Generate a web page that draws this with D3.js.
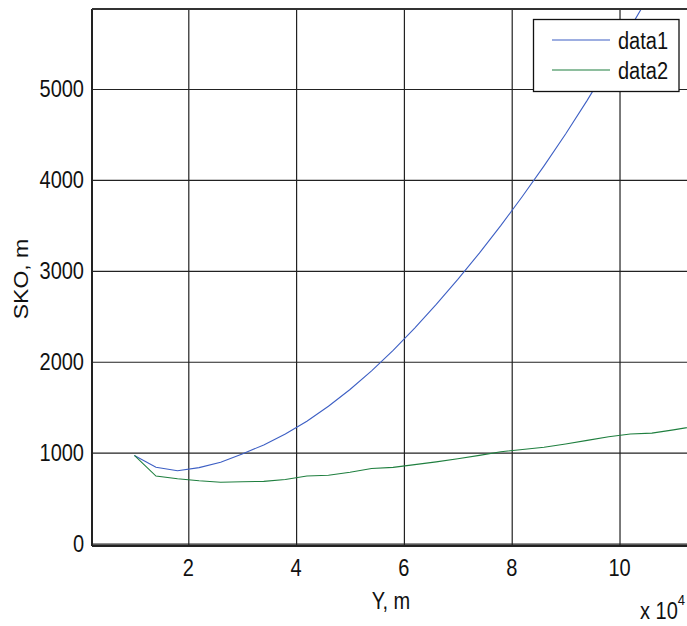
<!DOCTYPE html>
<html>
<head>
<meta charset="utf-8">
<script src="https://cdn.jsdelivr.net/npm/d3@7"></script>
<style>
  body { margin: 0; background: #fff; }
  svg { display: block; }
  text { font-family: "Liberation Sans", Arial, sans-serif; fill: #111; }
</style>
</head>
<body>
<script>
// Y, m (in metres)
const yPos = [10000, 14000, 18000, 22000, 26000, 30000, 34000, 38000, 42000, 46000,
  50000, 54000, 58000, 62000, 66000, 70000, 74000, 78000, 82000, 86000,
  90000, 94000, 98000, 102000, 106000, 110000, 114000]

// SKO, m
const data1 = [969, 840, 800, 835, 895, 985, 1085, 1205, 1345, 1510,
  1695, 1900, 2125, 2370, 2630, 2905, 3195, 3500, 3820, 4155,
  4505, 4875, 5265, 5675, 6080, 6500, 6950]
const data2 = [969, 742, 712, 690, 675, 680, 684, 705, 743, 752,
  785, 825, 838, 868, 898, 932, 970, 1010, 1035, 1060,
  1095, 1135, 1175, 1205, 1215, 1250, 1290]

const xTicks = [20000, 40000, 60000, 80000, 100000]
const yTicks = [0, 1000, 2000, 3000, 4000, 5000]
const seriesNames = ['data1', 'data2']
const seriesColors = ['#3d5fc4', '#1f7f3f']

const W = 687, H = 626
const m = { left: 92, right: 687, top: 9, bottom: 546 }
const fs = 23      // font size
const sx = 0.87    // the original text is narrow and tall

const svg = d3.select('body').append('svg')
    .attr('width', W)
    .attr('height', H)

const x = d3.scaleLinear().domain([2134, 112520]).range([m.left, m.right])
const y = d3.scaleLinear().domain([-27, 5880]).range([m.bottom, m.top])

// squeezed text at (px, py)
function label(g, px, py, str, anchor, rot) {
  return g.append('text')
      .attr('transform', `translate(${px},${py}) scale(${sx},1)` + (rot ? ` rotate(${rot})` : ''))
      .attr('text-anchor', anchor || 'start')
      .attr('font-size', fs)
      .text(str)
}

svg.append('defs').append('clipPath').attr('id', 'plot')
  .append('rect')
    .attr('x', m.left).attr('y', m.top)
    .attr('width', m.right - m.left).attr('height', m.bottom - m.top)

// grid
svg.append('g')
    .attr('transform', `translate(0,${m.bottom})`)
    .call(d3.axisBottom(x).tickValues(xTicks).tickSize(-(m.bottom - m.top)).tickFormat(''))
    .call(g => g.select('.domain').remove())
    .call(g => g.selectAll('line').attr('stroke', '#222').attr('stroke-width', 1.2))

svg.append('g')
    .attr('transform', `translate(${m.left},0)`)
    .call(d3.axisLeft(y).tickValues(yTicks).tickSize(-(m.right - m.left)).tickFormat(''))
    .call(g => g.select('.domain').remove())
    .call(g => g.selectAll('line').attr('stroke', '#222').attr('stroke-width', 1.2))

// lines
const line = d3.line().x((d, i) => x(yPos[i])).y(d => y(d))
const plot = svg.append('g').attr('clip-path', 'url(#plot)')
;[data1, data2].forEach((s, k) => {
  plot.append('path')
      .datum(s)
      .attr('d', line)
      .attr('fill', 'none')
      .attr('stroke', seriesColors[k])
      .attr('stroke-width', 1.1)
})

// box
svg.append('line').attr('x1', m.left).attr('x2', m.left).attr('y1', m.top).attr('y2', m.bottom)
    .attr('stroke', '#222').attr('stroke-width', 2)
svg.append('line').attr('x1', m.left).attr('x2', m.right).attr('y1', m.top).attr('y2', m.top)
    .attr('stroke', '#333').attr('stroke-width', 2)
svg.append('line').attr('x1', m.left).attr('x2', m.right).attr('y1', m.bottom).attr('y2', m.bottom)
    .attr('stroke', '#222').attr('stroke-width', 2)

// tick labels
const tl = svg.append('g')
xTicks.forEach(d => label(tl, x(d), 576, d / 10000, 'middle'))
yTicks.forEach(d => label(tl, m.left - 8, y(d) + 8, d, 'end'))

// axis labels
label(svg, 391, 609, 'Y, m', 'middle')
label(svg, 28, 279, 'SKO, m', 'middle', -90)

const mult = label(svg, 640, 619, 'x 10')
mult.append('tspan').attr('dy', -14).attr('font-size', 15).text('4')

// legend
const leg = svg.append('g')
leg.append('rect')
    .attr('x', 533.5).attr('y', 19.5)
    .attr('width', 145.5).attr('height', 72)
    .attr('fill', '#fff')
    .attr('stroke', '#111')
    .attr('stroke-width', 1.3)
seriesNames.forEach((name, k) => {
  const ly = 40 + k * 30
  leg.append('line')
      .attr('x1', 552).attr('x2', 610)
      .attr('y1', ly).attr('y2', ly)
      .attr('stroke', seriesColors[k])
      .attr('stroke-width', 1.1)
  label(leg, 618, ly + 9, name)
})
</script>
</body>
</html>
